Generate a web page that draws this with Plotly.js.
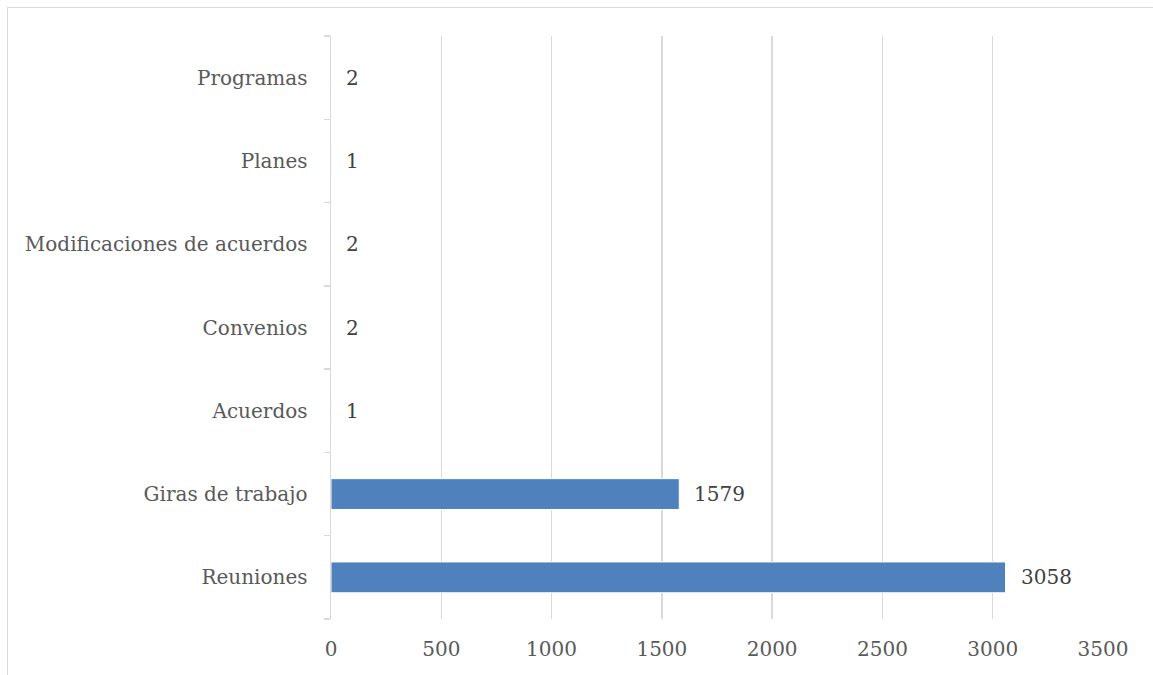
<!DOCTYPE html>
<html>
<head>
<meta charset="utf-8">
<script src="https://cdn.plot.ly/plotly-3.0.1.min.js"></script>
<style>
html,body{margin:0;padding:0;background:#fff;}
#wrap{position:relative;width:1153px;height:675px;overflow:hidden;}
#chart{position:absolute;left:0;top:0;width:1153px;height:675px;}
#frame{position:absolute;left:7px;top:7px;width:1200px;height:700px;border-top:1.5px solid #d9d9d9;border-left:1.5px solid #d9d9d9;pointer-events:none;}
</style>
</head>
<body>
<div id="wrap"><div id="chart"></div><div id="frame"></div></div>
<script>
const categories = ["Reuniones", "Giras de trabajo", "Acuerdos", "Convenios", "Modificaciones de acuerdos", "Planes", "Programas"];
const values = [3058, 1579, 1, 2, 2, 1, 2];
const tickValues = [0, 500, 1000, 1500, 2000, 2500, 3000, 3500];

const FONT = "DejaVu Serif";

const trace = {
  type: "bar",
  orientation: "h",
  x: values,
  y: categories,
  marker: {color: "#4f81bd", line: {color: "#ffffff", width: 1}},
  width: 0.37,
  hoverinfo: "skip"
};

const annotations = categories.map((c, i) => ({
  x: values[i], y: c, xref: "x", yref: "y",
  text: String(values[i]), showarrow: false,
  xanchor: "left", yanchor: "middle", xshift: 13,
  font: {family: FONT, size: 20, color: "#404040"}
}));

const layout = {
  width: 1153, height: 675,
  margin: {l: 331, r: 50, t: 36, b: 56, pad: 0},
  paper_bgcolor: "#ffffff", plot_bgcolor: "#ffffff",
  showlegend: false,
  bargap: 0.63,
  xaxis: {
    range: [0, 3500],
    tickvals: tickValues,
    ticktext: tickValues.map(String),
    showgrid: true, gridcolor: "#d9d9d9", gridwidth: 1.5,
    zeroline: false, showline: false,
    ticks: "",
    tickfont: {family: FONT, size: 20, color: "#595959"},
    ticklabelstandoff: 16,
    fixedrange: true
  },
  yaxis: {
    type: "category",
    categoryorder: "array", categoryarray: categories,
    showgrid: false, zeroline: false,
    showline: true, linecolor: "#d9d9d9", linewidth: 1.5,
    ticks: "outside", tickson: "boundaries", ticklen: 6, tickcolor: "#d9d9d9", tickwidth: 1.5,
    tickfont: {family: FONT, size: 20, color: "#595959"},
    ticklabelstandoff: 18,
    fixedrange: true
  },
  annotations: annotations
};

Plotly.newPlot("chart", [trace], layout, {displayModeBar: false, staticPlot: true});
</script>
</body>
</html>
